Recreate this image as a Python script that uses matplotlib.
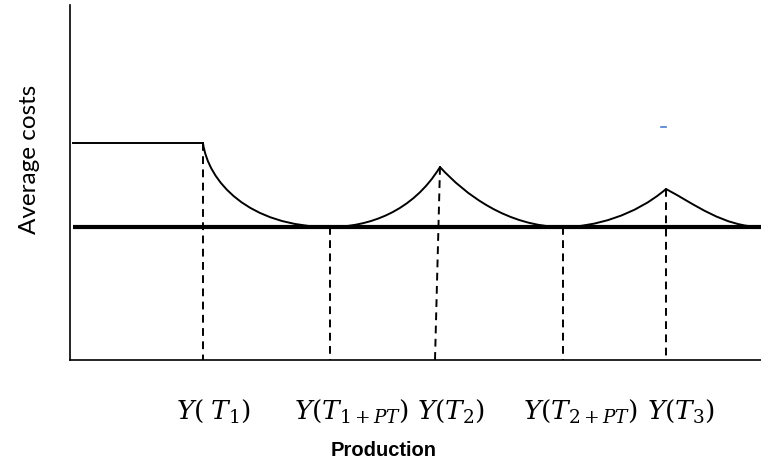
import matplotlib
matplotlib.use("Agg")
import matplotlib.pyplot as plt
from matplotlib.path import Path
from matplotlib.patches import PathPatch

# ---- data (conceptual units: x = production, y = average cost) ----
event_labels = [r"$Y(\;T_1)$", r"$Y(T_{1+PT})$", r"$Y(T_2)$", r"$Y(T_{2+PT})$", r"$Y(T_3)$"]
event_x_top = [133, 260, 370, 493, 596]      # where dashed lines meet the curve
event_x_bottom = [133, 260, 365, 493, 596]   # where dashed lines meet the axis
event_y_top = [217, 133, 193, 133, 171]      # cost level at the event
label_x = [213, 352, 451, 581, 681]          # label centres (pixels)
x_start, x_end = 3, 692
high_cost = 217
min_cost = 133

W, H = 761, 463
plt.rcParams["mathtext.fontset"] = "dejavuserif"
fig = plt.figure(figsize=(W / 100, H / 100), dpi=100)
ax_left, ax_bottom, ax_top = 70, 360, 5
ax = fig.add_axes([ax_left / W, (H - ax_bottom) / H, (W - ax_left) / W, (ax_bottom - ax_top) / H])
ax.set_xlim(0, W - ax_left)
ax.set_ylim(0, ax_bottom - ax_top)
ax.set_xticks([])
ax.set_yticks([])
for s in ["top", "right"]:
    ax.spines[s].set_visible(False)
for s in ["left", "bottom"]:
    ax.spines[s].set_linewidth(1.2)
    ax.spines[s].set_color("black")

# thick minimum cost line
ax.plot([x_start, x_end], [min_cost, min_cost], color="black", lw=3.0, solid_capstyle="butt", zorder=3)
# flat initial cost
ax.plot([x_start, event_x_top[0]], [high_cost, high_cost], color="black", lw=1.4, zorder=3)

# curves (cubic Bezier segments)
def seg(p0, c1, c2, p1):
    path = Path([p0, c1, c2, p1], [Path.MOVETO, Path.CURVE4, Path.CURVE4, Path.CURVE4])
    ax.add_patch(PathPatch(path, fill=False, lw=1.4, color="black", zorder=4, capstyle="round"))

x0, x1, x2, x3, x4 = event_x_top
y0, y2, y4 = event_y_top[0], event_y_top[2], event_y_top[4]
# descent after T1: steep start, flattening
d = x1 - x0
seg((x0, y0), (x0 + 0.04 * d, y0 - 0.45 * (y0 - min_cost)), (x0 + 0.35 * d, min_cost), (x1, min_cost))
# rise to T2
d = x2 - x1
seg((x1, min_cost), (x1 + 0.35 * d, min_cost), (x1 + 0.75 * d, min_cost + 0.25 * (y2 - min_cost)), (x2, y2))
# descent after T2
d = x3 - x2
seg((x2, y2), (x2 + 0.2 * d, min_cost + 0.55 * (y2 - min_cost)), (x2 + 0.55 * d, min_cost), (x3, min_cost))
# rise to T3
d = x4 - x3
seg((x3, min_cost), (x3 + 0.3 * d, min_cost), (x3 + 0.7 * d, min_cost + 0.3 * (y4 - min_cost)), (x4, y4))
# descent after T3
d = x_end - x4
seg((x4, y4), (x4 + 0.3 * d, min_cost + 0.6 * (y4 - min_cost)), (x4 + 0.6 * d, min_cost), (x_end, min_cost))

# dashed drop lines
for xt, xb, yt in zip(event_x_top, event_x_bottom, event_y_top):
    ax.plot([xt, xb], [yt, 0], color="black", lw=1.4, ls=(0, (4, 2.8)), zorder=2)

# tiny blue mark
ax.plot([591, 596], [233, 233], color="#4a7fd0", lw=1.2)

for lx, lab in zip(label_x, event_labels):
    fig.text(lx / W, 1 - 411 / H, lab, ha="center", va="center", fontsize=19)

fig.text(384 / W, 1 - 451 / H, "Production", ha="center", va="center",
         fontsize=14.5, fontweight="bold", family="Liberation Sans")
fig.text(29 / W, 1 - 159 / H, "Average costs", ha="center", va="center",
         rotation=90, fontsize=17.5, family="Lato")

fig.savefig("out.png", dpi=100)
